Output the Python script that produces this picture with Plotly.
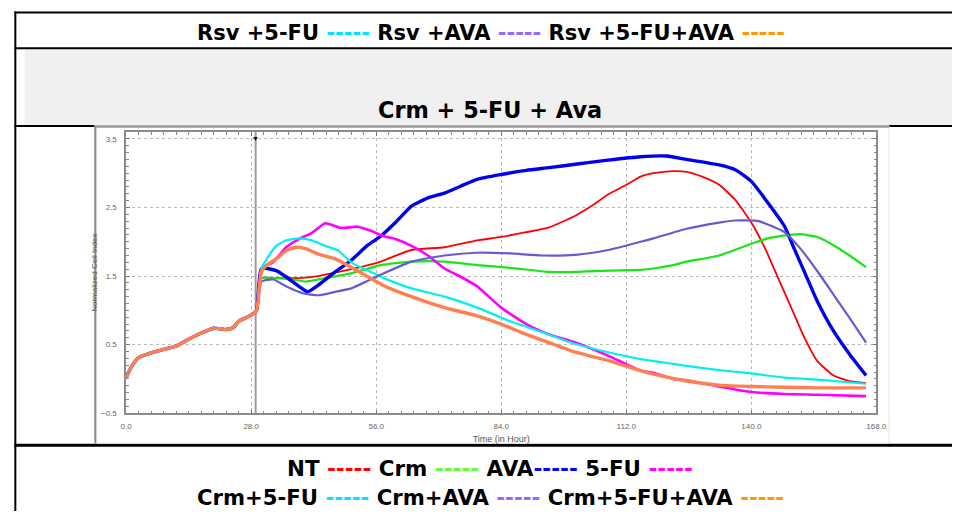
import plotly.graph_objects as go

# ---------------- data ----------------
BASE_T = [0, 1.3, 2.8, 5.6, 8.4, 11.2, 14, 16.8, 19.6, 22.4, 24, 25.2, 28, 29.2]
BASE_V = [0.02, 0.19, 0.31, 0.38, 0.43, 0.48, 0.58, 0.67, 0.74, 0.72, 0.75, 0.84, 0.93, 1.0]

NT_T = [30.3, 33, 36, 38.7, 43, 50.4, 56.5, 63.9, 71.3, 78.6, 84, 89.6, 94.7, 100.6, 104.2, 107.9,
        112, 115.2, 118.1, 122.5, 125.5, 129, 132.8, 136.4, 140, 143.1, 146, 149, 151.9, 154.8,
        158.4, 162, 165.7]
NT_V = [1.47, 1.47, 1.47, 1.47, 1.5, 1.6, 1.7, 1.88, 1.92, 2.02, 2.07, 2.14, 2.21, 2.38, 2.52, 2.69,
        2.83, 2.95, 3.0, 3.03, 3.02, 2.95, 2.83, 2.61, 2.28, 1.90, 1.47, 1.03, 0.60, 0.26,
        0.05, -0.03, -0.06]

CRM_T = [30.3, 33, 37.3, 40.2, 44.6, 50.4, 57, 63.9, 71.3, 78.6, 86, 94.7, 100.6, 107.9, 115.2,
         118.1, 122.5, 125.5, 132.8, 140, 143.7, 148.8, 151, 154.8, 158.4, 162, 165.7]
CRM_V = [1.47, 1.47, 1.45, 1.42, 1.47, 1.54, 1.66, 1.71, 1.71, 1.66, 1.62, 1.56, 1.56, 1.58, 1.59,
         1.61, 1.66, 1.71, 1.80, 1.97, 2.05, 2.10, 2.11, 2.07, 1.95, 1.80, 1.63]

AVA_T = [30.3, 33.6, 35.8, 38.7, 40.6, 43.1, 46.8, 50.4, 54.1, 57, 60.3, 63.9, 67.6, 71.3, 74.9,
         78.6, 84, 89.6, 94.7, 100.6, 107.9, 115.2, 121, 125.5, 132.8, 136.4, 140, 143.7, 147.4,
         149.6, 152.5, 154.8, 158.4, 162, 165.7]
AVA_V = [1.61, 1.58, 1.49, 1.35, 1.27, 1.37, 1.56, 1.73, 1.95, 2.08, 2.28, 2.52, 2.64, 2.71, 2.81,
         2.91, 2.98, 3.04, 3.08, 3.13, 3.19, 3.24, 3.25, 3.2, 3.12, 3.05, 2.88, 2.57, 2.23,
         1.90, 1.47, 1.13, 0.70, 0.36, 0.05]

FU_T = [30.3, 32.9, 35.8, 38.7, 41.6, 44.6, 48.2, 51.9, 54.8, 57.7, 60.3, 63.9, 67.6, 71.3, 74.9,
        78.6, 84, 89.6, 94.7, 100.6, 107.9, 115.2, 118.1, 122.5, 125.5, 132.8, 140, 147.4, 154.8,
        165.7]
FU_V = [1.61, 1.70, 1.92, 2.04, 2.13, 2.27, 2.20, 2.22, 2.16, 2.08, 2.04, 1.94, 1.80, 1.61, 1.49,
        1.35, 1.04, 0.80, 0.65, 0.53, 0.34, 0.12, 0.09, 0.0, -0.02, -0.11, -0.19, -0.22, -0.23,
        -0.25]

CRM_FU_T = [30.3, 31.5, 33.6, 35.8, 38.7, 41.6, 44.6, 47.5, 50.4, 54.1, 57.7, 63.9, 71.3, 78.6,
            86, 93.2, 100.6, 107.9, 115.2, 122.5, 125.5, 132.8, 140, 147.4, 154.8, 165.7]
CRM_FU_V = [1.61, 1.75, 1.94, 2.02, 2.05, 2.02, 1.94, 1.87, 1.70, 1.58, 1.47, 1.32, 1.20, 1.04,
            0.84, 0.68, 0.51, 0.39, 0.29, 0.22, 0.19, 0.13, 0.08, 0.02, -0.01, -0.07]

CRM_AVA_T = [30.3, 33, 35.8, 39.5, 43.1, 46.8, 50.4, 57, 63.9, 71.3, 78.6, 86, 93.2, 100.6, 107.9,
             115.2, 118.1, 125.5, 132.8, 136.4, 141.6, 147.4, 151, 154.8, 158.4, 162, 165.7]
CRM_AVA_V = [1.42, 1.45, 1.35, 1.25, 1.22, 1.27, 1.32, 1.52, 1.71, 1.80, 1.84, 1.83, 1.80, 1.81,
             1.88, 2.0, 2.05, 2.19, 2.28, 2.31, 2.30, 2.14, 1.90, 1.57, 1.23, 0.89, 0.53]

CRM_FU_AVA_T = [30.3, 31.5, 33.6, 35.8, 38, 40.2, 43.1, 46.8, 50.4, 54.1, 57.7, 63.9, 71.3, 78.6,
                84, 89.6, 94.7, 100.6, 107.9, 115.2, 118.1, 125.5, 132.8, 140, 147.4, 154.8, 165.7]
CRM_FU_AVA_V = [1.56, 1.66, 1.75, 1.87, 1.92, 1.90, 1.82, 1.75, 1.63, 1.49, 1.36, 1.20, 1.04, 0.92,
                0.80, 0.65, 0.53, 0.39, 0.27, 0.12, 0.07, -0.03, -0.09, -0.11, -0.12, -0.13, -0.13]

SERIES_NAMES = ["NT", "Crm", "AVA", "5-FU", "Crm+5-FU", "Crm+AVA", "Crm+5-FU+AVA"]
SERIES_T = [NT_T, CRM_T, AVA_T, FU_T, CRM_FU_T, CRM_AVA_T, CRM_FU_AVA_T]
SERIES_V = [NT_V, CRM_V, AVA_V, FU_V, CRM_FU_V, CRM_AVA_V, CRM_FU_AVA_V]

X_TICKS = [0, 28, 56, 84, 112, 140, 168]
Y_TICKS = [-0.5, 0.5, 1.5, 2.5, 3.5]
MARKER_T = 29.0

HEADER_ITEMS = [("Rsv +5-FU", "-----", "#00E5FF"), ("Rsv +AVA", "-----", "#9966FF"),
                ("Rsv +5-FU+AVA", "-----", "#FF9900")]
TITLE_TEXT = "Crm + 5-FU + Ava"
LEGEND_ROW1 = [("NT", "-----", "#FF0000"), ("Crm", "-----", "#66FF33"),
               ("AVA", "-----", "#0000FF"), ("5-FU", "-----", "#FF00FF")]
LEGEND_ROW2 = [("Crm+5-FU", "-----", "#00E5FF"), ("Crm+AVA", "-----", "#9966FF"),
               ("Crm+5-FU+AVA", "-----", "#FF9900")]

# ---------------- styles ----------------
LINE_COLORS = ["#FF0000", "#19E619", "#0000F0", "#FF00FF", "#00F0F0", "#6A5ACD", "#FF7F50"]
LINE_WIDTHS = [1.8, 2.2, 3.4, 2.6, 2.2, 2.2, 3.4]

W, H = 963, 516


def px(x):
    return x / W


def py(y):
    return 1 - y / H


fig = go.Figure()
for name, t, v, c, w in zip(SERIES_NAMES, SERIES_T, SERIES_V, LINE_COLORS, LINE_WIDTHS):
    fig.add_trace(go.Scatter(x=BASE_T + t, y=BASE_V + v, mode="lines", name=name,
                             line=dict(color=c, width=w, shape="spline", smoothing=0.5),
                             hoverinfo="skip"))

shapes = []
# table frame
shapes.append(dict(type="rect", xref="paper", yref="paper", x0=px(19), x1=px(963), y0=py(126.5),
                   y1=py(50), fillcolor="#F0F0F0", line=dict(width=0), layer="below"))
for yy, lw in [(12.5, 2), (48.7, 2), (127.3, 2), (449.5, 3)]:
    shapes.append(dict(type="line", xref="paper", yref="paper", x0=px(8.5), x1=px(963),
                       y0=py(yy), y1=py(yy), line=dict(color="black", width=lw), layer="below"))
shapes.append(dict(type="line", xref="paper", yref="paper", x0=px(9.5), x1=px(9.5),
                   y0=py(11.5), y1=py(516), line=dict(color="black", width=2), layer="below"))
# embedded chart picture frame
shapes.append(dict(type="rect", xref="paper", yref="paper", x0=px(90), x1=px(899), y0=py(447.5),
                   y1=py(127), fillcolor="white", line=dict(color="#E2E2E2", width=1), layer="below"))
shapes.append(dict(type="line", xref="paper", yref="paper", x0=px(90), x1=px(899), y0=py(128),
                   y1=py(128), line=dict(color="#9A9A9A", width=2), layer="below"))
shapes.append(dict(type="line", xref="paper", yref="paper", x0=px(91), x1=px(91), y0=py(448),
                   y1=py(127), line=dict(color="#8A8A8A", width=2), layer="below"))
# time-marker line
shapes.append(dict(type="line", xref="x", yref="paper", x0=MARKER_T, x1=MARKER_T,
                   y0=py(417.3), y1=py(133.3), line=dict(color="#9C9C9C", width=2), layer="below"))
fig.update_layout(shapes=shapes)

ann = []
TXT_FONT = "DejaVu Sans, Verdana, sans-serif"


def legend_html(items, tight=False):
    parts = []
    for lab, dash, col in items:
        sep = "" if (tight and lab == "AVA") else " "
        parts.append(f"{lab}{sep}<span style='color:{col}'>{dash}</span>")
    return "<b>" + " ".join(parts) + "</b>"


ann.append(dict(xref="paper", yref="paper", x=px(494), y=py(33.5), text=legend_html(HEADER_ITEMS),
                showarrow=False, xanchor="center", yanchor="middle",
                font=dict(family=TXT_FONT, size=21, color="black")))
ann.append(dict(xref="paper", yref="paper", x=px(493), y=py(111.5), text=f"<b>{TITLE_TEXT}</b>",
                showarrow=False, xanchor="center", yanchor="middle",
                font=dict(family=TXT_FONT, size=22.4, color="black")))
ann.append(dict(xref="paper", yref="paper", x=px(493), y=py(473.5),
                text=legend_html(LEGEND_ROW1, tight=True),
                showarrow=False, xanchor="center", yanchor="middle",
                font=dict(family=TXT_FONT, size=21.4, color="black")))
ann.append(dict(xref="paper", yref="paper", x=px(493), y=0, text=legend_html(LEGEND_ROW2),
                showarrow=False, xanchor="center", yanchor="bottom", borderpad=0,
                font=dict(family=TXT_FONT, size=21.2, color="black")))
# marker triangle
ann.append(dict(xref="x", yref="paper", x=MARKER_T, y=py(133.3), text="▼", showarrow=False,
                xanchor="center", yanchor="top", font=dict(size=7, color="black")))
fig.update_layout(annotations=ann)

AX_FONT = dict(family="Liberation Sans, Arial, sans-serif", size=8, color="#666666")
fig.update_layout(
    width=W, height=H, margin=dict(l=0, r=0, t=0, b=0),
    paper_bgcolor="white", plot_bgcolor="rgba(0,0,0,0)", showlegend=False,
    xaxis=dict(domain=[px(122.3), px(886)], range=[0, 168], tickvals=X_TICKS, tickformat=".1f",
               ticks="inside", ticklen=4, tickcolor="#777", tickfont=AX_FONT, ticklabelstandoff=4,
               showline=True, linecolor="#8C8C8C", linewidth=1.5, mirror="ticks",
               showgrid=True, gridcolor="#B8B8B8", griddash="dot", gridwidth=1, zeroline=False,
               minor=dict(dtick=2.8, tick0=0, ticks="inside", ticklen=3, tickcolor="#888",
                          showgrid=False),
               title=dict(text="Time (in Hour)", font=dict(family="Liberation Sans, Arial, sans-serif",
                                                           size=9, color="#555"), standoff=6)),
    yaxis=dict(domain=[py(417.3), py(133.3)], range=[-0.5, 3.6], tickvals=Y_TICKS, tickformat=".1f",
               ticks="inside", ticklen=4, tickcolor="#777", tickfont=AX_FONT, ticklabelstandoff=6,
               showline=True, linecolor="#8C8C8C", linewidth=1.5, mirror="ticks",
               showgrid=True, gridcolor="#B8B8B8", griddash="dot", gridwidth=1, zeroline=False,
               minor=dict(dtick=0.1, tick0=-0.5, ticks="inside", ticklen=3, tickcolor="#888",
                          showgrid=False),
               title=dict(text="Normalized Cell Index", font=dict(family="Liberation Sans, Arial, sans-serif",
                                                                  size=8, color="#555"), standoff=2)),
)

fig.write_html("out.html")
